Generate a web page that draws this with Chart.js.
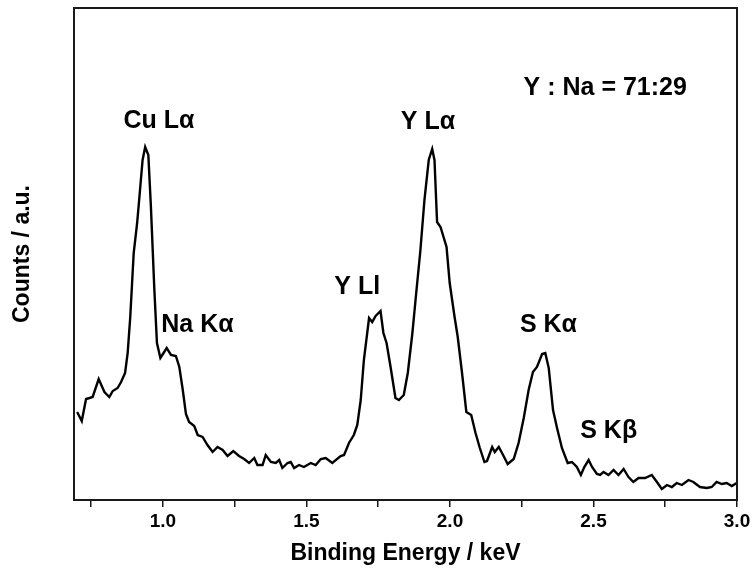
<!DOCTYPE html>
<html>
<head>
<meta charset="utf-8">
<script src="https://cdn.jsdelivr.net/npm/chart.js@4.4.1/dist/chart.umd.min.js"></script>
<style>
  body { margin: 0; background: #fff; }
</style>
</head>
<body>
<canvas id="myChart" width="755" height="581"></canvas>
<script>
// EDS spectrum (counts in arbitrary units)
const energy = [
    0.701, 0.717, 0.732, 0.744, 0.755, 0.776, 0.796, 0.813, 0.825, 0.842,
    0.854, 0.868, 0.877, 0.886, 0.898, 0.910, 0.920, 0.929, 0.938, 0.949,
    0.958, 0.970, 0.979, 0.991, 1.002, 1.013, 1.028, 1.045, 1.057, 1.069,
    1.080, 1.091, 1.109, 1.121, 1.138, 1.155, 1.173, 1.190, 1.208, 1.225,
    1.245, 1.265, 1.283, 1.300, 1.318, 1.329, 1.347, 1.358, 1.376, 1.393,
    1.405, 1.416, 1.434, 1.445, 1.457, 1.474, 1.491, 1.515, 1.532, 1.550,
    1.567, 1.590, 1.619, 1.631, 1.648, 1.665, 1.677, 1.689, 1.700, 1.718,
    1.729, 1.741, 1.758, 1.768, 1.779, 1.793, 1.810, 1.822, 1.839, 1.853,
    1.869, 1.880, 1.897, 1.911, 1.926, 1.938, 1.946, 1.955, 1.967, 1.988,
    1.999, 2.016, 2.027, 2.042, 2.057, 2.074, 2.089, 2.104, 2.120, 2.129,
    2.147, 2.156, 2.170, 2.185, 2.201, 2.222, 2.239, 2.257, 2.274, 2.289,
    2.303, 2.321, 2.332, 2.344, 2.359, 2.373, 2.390, 2.410, 2.425, 2.442,
    2.456, 2.468, 2.483, 2.495, 2.512, 2.523, 2.535, 2.552, 2.570, 2.587,
    2.605, 2.622, 2.639, 2.657, 2.680, 2.703, 2.721, 2.738, 2.756, 2.773,
    2.790, 2.808, 2.831, 2.848, 2.871, 2.895, 2.912, 2.929, 2.947, 2.964,
    2.982, 2.999
]
const counts = [
    88, 79, 101, 102, 103, 121, 108, 103, 109, 112,
    118, 127, 147, 183, 247, 277, 310, 340, 353, 345,
    293, 210, 157, 142, 147, 152, 145, 144, 133, 110,
    86, 78, 74, 65, 63, 55, 48, 53, 50, 44,
    49, 44, 41, 37, 42, 35, 35, 45, 38, 37,
    40, 32, 37, 38, 32, 35, 33, 37, 35, 41,
    42, 37, 44, 45, 57, 65, 75, 100, 140, 182,
    178, 184, 189, 167, 157, 133, 102, 100, 105, 127,
    167, 200, 250, 300, 340, 351, 340, 278, 273, 253,
    217, 183, 163, 127, 88, 85, 67, 52, 38, 39,
    53, 48, 53, 45, 36, 41, 57, 82, 110, 128,
    133, 146, 147, 132, 90, 72, 52, 37, 38, 33,
    25, 33, 40, 33, 26, 25, 28, 25, 30, 25,
    31, 23, 18, 22, 22, 25, 18, 11, 15, 13,
    17, 15, 20, 18, 13, 12, 13, 18, 16, 17,
    14, 17
]

// x axis ticks (majors get a label, quarter steps are bare ticks)
const xTicks = [0.75, 1.0, 1.25, 1.5, 1.75, 2.0, 2.25, 2.5, 2.75, 3.0]

// peak annotations: text and where it sits in data coordinates
const peakNames = ['Cu Lα', 'Na Kα', 'Y Ll', 'Y Lα', 'S Kα', 'S Kβ', 'Y : Na = 71:29']
const peakX = [0.986, 1.120, 1.677, 1.923, 2.343, 2.553, 2.541]
const peakY = [379, 175, 213, 378, 175, 69, 412]

const FONT = '"Liberation Sans", Arial, Helvetica, sans-serif'

/////////////////////////////////////////////////////////////
// plugins: box around the plot + peak labels
const framePlugin = {
    id: 'frame',
    afterDatasetsDraw(chart) {
        const {ctx, chartArea: a} = chart
        ctx.save()
        ctx.strokeStyle = '#1a1a1a'
        ctx.lineWidth = 2
        ctx.strokeRect(a.left, a.top, a.right - a.left, a.bottom - a.top)
        ctx.restore()
    }
}

const peakLabelPlugin = {
    id: 'peakLabels',
    afterDatasetsDraw(chart) {
        const {ctx} = chart
        const x = chart.scales.x
        const y = chart.scales.y
        ctx.save()
        ctx.font = 'bold 25px ' + FONT
        ctx.fillStyle = '#000'
        ctx.textAlign = 'center'
        ctx.textBaseline = 'middle'
        peakNames.forEach((name, i) => {
            ctx.fillText(name, x.getPixelForValue(peakX[i]), y.getPixelForValue(peakY[i]))
        })
        ctx.restore()
    }
}

const data = {
    datasets: [{
        label: 'EDS',
        data: energy.map((e, i) => ({x: e, y: counts[i]})),
        borderColor: '#000',
        borderWidth: 2.4,
        pointRadius: 0,
        fill: false,
        tension: 0
    }]
}

const config = {
    type: 'line',
    data,
    plugins: [framePlugin, peakLabelPlugin],
    options: {
        responsive: false,
        animation: false,
        layout: {
            padding: {top: 8, right: 18, left: 0, bottom: 0}
        },
        plugins: {
            legend: {display: false},
            tooltip: {enabled: false}
        },
        scales: {
            x: {
                type: 'linear',
                min: 0.69,
                max: 3.0,
                afterBuildTicks: (scale) => {
                    scale.ticks = xTicks.map(v => ({value: v}))
                },
                afterFit: (scale) => { scale.height = 81 },
                border: {display: false},
                grid: {
                    drawOnChartArea: false,
                    drawTicks: true,
                    tickLength: 7,
                    color: '#1a1a1a',
                    lineWidth: 1.5
                },
                ticks: {
                    autoSkip: false,
                    maxRotation: 0,
                    padding: 3,
                    color: '#000',
                    font: {family: FONT, size: 19, weight: 'bold'},
                    callback: (value) => Number.isInteger(value * 2) ? value.toFixed(1) : ''
                },
                title: {
                    display: true,
                    text: 'Binding Energy / keV',
                    color: '#000',
                    font: {family: FONT, size: 23, weight: 'bold'},
                    padding: {top: 0, bottom: 14}
                }
            },
            y: {
                min: 0,
                max: 492,
                afterFit: (scale) => { scale.width = 74 },
                border: {display: false},
                grid: {display: false},
                ticks: {display: false},
                title: {
                    display: true,
                    text: 'Counts / a.u.',
                    color: '#000',
                    font: {family: FONT, size: 23, weight: 'bold'},
                    padding: {top: 9, bottom: 0}
                }
            }
        }
    }
}

const myChart = new Chart(
    document.getElementById('myChart'),
    config
)
</script>
</body>
</html>
